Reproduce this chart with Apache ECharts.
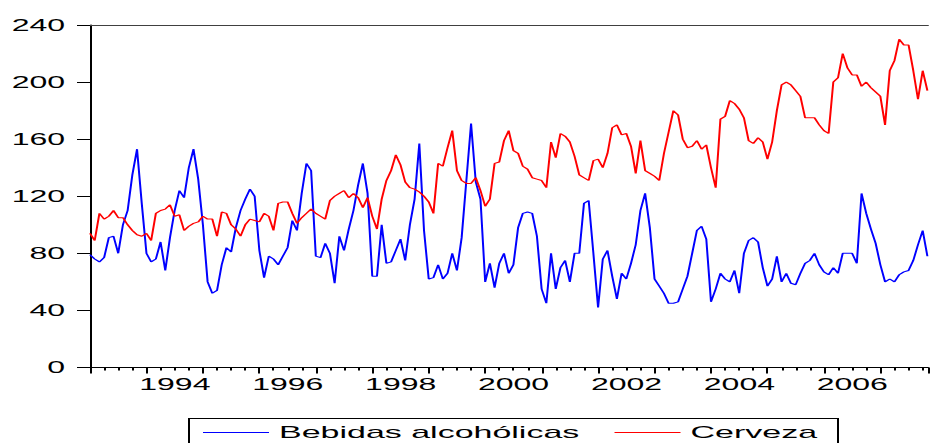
<!DOCTYPE html>
<html>
<head>
<meta charset="utf-8">
<script src="https://cdn.jsdelivr.net/npm/echarts@6/dist/echarts.min.js"></script>
<style>
html,body{margin:0;padding:0;background:#fff;overflow:hidden;width:933px;height:443px;}
#c{width:466.5px;height:443px;transform:scaleX(2);transform-origin:0 0;}
</style>
</head>
<body>
<div id="c"></div>
<script>
// Monthly series starting January 1993
var startYear = 1993;
var seriesNames = ['Bebidas alcohólicas', 'Cerveza'];
var bebidas = [79,76,74,77,91,92,80,100,110,135,153,115,
80,74,76,88,68,91,110,124,119,140,153,132,
100,60,52,54,72,84,81,98,110,118,125,120,
82,63,78,76,72,78,84,103,96,122,143,138,
78,77,87,80,59,92,82,97,110,128,143,122,
64,64,100,73,74,82,90,75,100,118,157,96,
62,63,72,62,66,80,68,91,131,171,130,118,
60,73,56,73,80,66,72,98,108,109,108,92,
55,45,80,55,70,75,60,80,80,115,117,80,
42,76,82,64,48,66,62,73,86,110,122,98,
62,57,52,45,45,46,55,64,80,96,99,90,
46,55,66,62,60,68,52,80,89,91,88,70,
57,62,78,60,66,59,58,66,73,75,80,72,
67,65,70,66,80,80,80,73,122,108,97,87,
72,60,62,60,65,67,68,75,86,96,78];
var cerveza = [94,89,108,104,106,110,105,105,100,96,93,92,
94,89,108,110,111,114,106,107,96,99,101,102,
106,104,104,92,109,108,100,97,92,100,104,103,
102,108,106,96,115,116,116,108,101,105,108,111,
108,106,104,117,120,122,124,119,122,119,112,119,
106,97,118,131,138,149,142,130,126,125,123,120,
116,108,143,141,154,166,138,131,129,129,133,124,
113,118,143,144,159,166,152,150,141,139,133,132,
131,126,158,147,164,162,158,148,135,133,131,145,
146,140,150,168,170,163,164,155,136,159,138,136,
134,131,150,165,180,177,160,154,155,159,153,156,
140,126,174,176,187,185,181,175,159,157,161,158,
146,158,180,198,200,198,194,190,175,175,175,170,
166,164,200,203,220,210,205,205,197,200,196,193,
190,170,208,215,230,226,226,208,188,208,194];
var yTicks = [0, 40, 80, 120, 160, 200, 240];
var xLabelYears = [1994, 1996, 1998, 2000, 2002, 2004, 2006];

function toPairs(arr) {
  return arr.map(function (v, i) { return [startYear + i / 12, v]; });
}

var chart = echarts.init(document.getElementById('c'), null, {renderer: 'svg'});
var xMin = 1993, xMax = 2007.844;
var font = 'Liberation Sans, Arial, sans-serif';
chart.setOption({
  animation: false,
  backgroundColor: '#fff',
  grid: {left: 45, right: 0, top: 25, bottom: 75.5, containLabel: false},
  graphic: [{
    type: 'rect', left: 94, top: 418, z: -1, silent: true,
    shape: {width: 324.5, height: 40},
    style: {fill: 'transparent', stroke: '#000', lineWidth: 1}
  }],
  xAxis: [{
    type: 'value', min: xMin, max: xMax, interval: 1, position: 'bottom',
    splitLine: {show: false},
    axisLine: {show: true, onZero: false, lineStyle: {color: '#000', width: 1}},
    axisTick: {show: true, inside: false, length: 6, lineStyle: {color: '#000', width: 1}},
    minorTick: {show: true, splitNumber: 4, length: 3, lineStyle: {color: '#000', width: 1}},
    axisLabel: {
      interval: 0, margin: 9, color: '#000', fontSize: 16, fontFamily: font,
      padding: [0, 0, 0, 28.4],
      showMinLabel: true, showMaxLabel: true,
      formatter: function (v) {
        return xLabelYears.indexOf(Math.round(v)) >= 0 && Math.abs(v - Math.round(v)) < 1e-6 ? String(Math.round(v)) : '';
      }
    }
  }, {
    type: 'value', min: xMin, max: xMax, position: 'top',
    splitLine: {show: false},
    axisLine: {show: true, onZero: false, lineStyle: {color: '#404040', width: 1}},
    axisTick: {show: false}, axisLabel: {show: false}
  }],
  yAxis: {
    type: 'value', min: yTicks[0], max: yTicks[yTicks.length - 1], interval: 40,
    splitLine: {show: false},
    axisLine: {show: true, onZero: false, lineStyle: {color: '#000', width: 1}},
    axisTick: {show: true, inside: false, length: 6.5, lineStyle: {color: '#000', width: 1}},
    axisLabel: {margin: 12.5, color: '#000', fontSize: 16, fontFamily: font}
  },
  legend: {
    left: 101.5, top: 424,
    padding: 0,
    icon: 'rect',
    itemWidth: 33, itemHeight: 1, itemGap: 17.5,
    textStyle: {color: '#000', fontSize: 17, fontFamily: font},
    data: seriesNames
  },
  series: [{
    name: seriesNames[0], type: 'line', data: toPairs(bebidas),
    symbol: 'none', showSymbol: false,
    lineStyle: {color: '#0000ff', width: 1}, itemStyle: {color: '#0000ff'}
  }, {
    name: seriesNames[1], type: 'line', data: toPairs(cerveza),
    symbol: 'none', showSymbol: false,
    lineStyle: {color: '#ff0000', width: 1}, itemStyle: {color: '#ff0000'}
  }]
});
</script>
</body>
</html>
